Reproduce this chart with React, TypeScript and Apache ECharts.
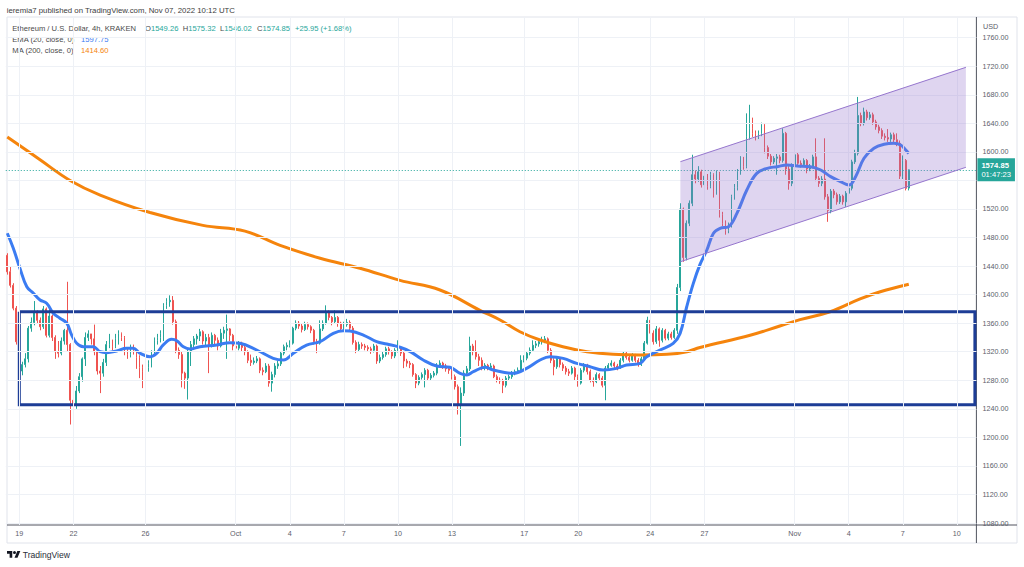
import React, { useEffect, useRef } from 'react';
import * as echarts from 'echarts';

// ---------- data ----------
const START_UTC = Date.UTC(2022, 8, 18, 8); // first 4h candle: Sep 18 08:00 UTC
const BAR_MS = 4 * 3600 * 1000;
const SLOT_COUNT = 323; // candle slots on the time axis (incl. right margin)

const FIRST_OPEN = 1455;
const LAST_OPEN = 1549.26;

const CLOSE = [
  1432, 1413, 1381, 1334, 1293, 1302, 1310, 1353, 1361, 1376,
  1364, 1355, 1380, 1343, 1370, 1340, 1320, 1318, 1335, 1350,
  1330, 1252, 1245, 1265, 1285, 1310, 1340, 1345, 1338, 1320,
  1293, 1290, 1305, 1330, 1335, 1327, 1338, 1345, 1340, 1320,
  1316, 1325, 1322, 1312, 1298, 1292, 1298, 1303, 1318, 1336,
  1340, 1345, 1385, 1390, 1392, 1362, 1322, 1316, 1290, 1283,
  1320, 1330, 1338, 1342, 1348, 1335, 1340, 1330, 1343, 1336,
  1328, 1346, 1350, 1352, 1343, 1328, 1325, 1332, 1326, 1320,
  1308, 1305, 1307, 1310, 1294, 1292, 1300, 1276, 1288, 1300,
  1303, 1318, 1327, 1329, 1332, 1353, 1360, 1356, 1351, 1358,
  1355, 1350, 1334, 1332, 1352, 1360, 1375, 1368, 1362, 1368,
  1360, 1352, 1358, 1361, 1353, 1333, 1323, 1330, 1328, 1326,
  1324, 1322, 1328, 1307, 1312, 1316, 1324, 1320, 1314, 1322,
  1326, 1318, 1307, 1304, 1302, 1288, 1276, 1284, 1288, 1294,
  1283, 1287, 1290, 1301, 1304, 1300, 1296, 1294, 1285, 1271,
  1245, 1262, 1290, 1296, 1328, 1320, 1313, 1308, 1298, 1301,
  1298, 1300, 1285, 1280, 1279, 1273, 1283, 1285, 1290, 1292,
  1294, 1308, 1311, 1318, 1322, 1329, 1331, 1334, 1336, 1338,
  1322, 1308, 1299, 1310, 1302, 1297, 1292, 1290, 1297, 1285,
  1276, 1294, 1301, 1292, 1280, 1278, 1288, 1283, 1273, 1297,
  1301, 1304, 1300, 1298, 1308, 1318, 1312, 1308, 1315, 1308,
  1302, 1310, 1332, 1364, 1346, 1334, 1352, 1336, 1350, 1339,
  1345, 1340, 1350, 1410, 1520, 1452, 1500, 1528, 1568, 1562,
  1572, 1554, 1566, 1552, 1568, 1544, 1570, 1512, 1500, 1490,
  1497, 1537, 1550, 1572, 1590, 1580, 1621, 1633, 1626, 1621,
  1626, 1638, 1606, 1594, 1586, 1591, 1593, 1588, 1626, 1576,
  1556, 1581, 1596, 1584, 1582, 1588, 1576, 1580, 1593, 1563,
  1556, 1562, 1537, 1518, 1545, 1540, 1530, 1538, 1530, 1542,
  1549, 1586, 1598, 1651, 1640, 1656, 1648, 1652, 1642, 1635,
  1630, 1622, 1620, 1618, 1624, 1617, 1612, 1566, 1588, 1548.9,
  1574.85,
];

const HIGH = [
  1458, 1440, 1416, 1384, 1338, 1306, 1318, 1356, 1368, 1391,
  1378, 1368, 1384, 1382, 1382, 1372, 1343, 1335, 1340, 1352,
  1418, 1332, 1264, 1272, 1290, 1312, 1347, 1350, 1345, 1358,
  1322, 1300, 1310, 1335, 1345, 1337, 1345, 1350, 1347, 1342,
  1326, 1330, 1330, 1324, 1315, 1302, 1310, 1308, 1322, 1340,
  1345, 1350, 1388, 1395, 1399, 1398, 1365, 1326, 1320, 1292,
  1324, 1335, 1342, 1345, 1352, 1350, 1345, 1345, 1347, 1345,
  1340, 1352, 1355, 1372, 1353, 1345, 1332, 1335, 1334, 1328,
  1322, 1316, 1312, 1314, 1312, 1298, 1304, 1303, 1292, 1304,
  1307, 1321, 1330, 1333, 1336, 1355, 1364, 1363, 1359, 1362,
  1361, 1357, 1352, 1338, 1364, 1364, 1385, 1378, 1370, 1378,
  1370, 1362, 1362, 1366, 1364, 1356, 1336, 1334, 1333, 1331,
  1329, 1327, 1331, 1330, 1316, 1320, 1327, 1327, 1322, 1325,
  1336, 1328, 1320, 1310, 1307, 1304, 1290, 1287, 1291, 1297,
  1296, 1290, 1293, 1304, 1308, 1306, 1303, 1299, 1297, 1288,
  1274, 1270, 1294, 1300, 1341, 1331, 1336, 1317, 1312, 1304,
  1303, 1304, 1302, 1288, 1284, 1282, 1286, 1288, 1293, 1295,
  1298, 1315, 1315, 1321, 1326, 1336, 1335, 1337, 1341, 1342,
  1340, 1325, 1311, 1313, 1312, 1305, 1300, 1296, 1300, 1299,
  1288, 1297, 1304, 1303, 1295, 1284, 1291, 1290, 1286, 1300,
  1304, 1308, 1306, 1303, 1311, 1320, 1320, 1315, 1318, 1317,
  1311, 1313, 1335, 1369, 1369, 1350, 1356, 1354, 1353, 1352,
  1348, 1348, 1353, 1415, 1528, 1522, 1504, 1532, 1596, 1574,
  1580, 1575, 1570, 1569, 1572, 1570, 1574, 1572, 1516, 1504,
  1501, 1540, 1555, 1576, 1594, 1593, 1654, 1666, 1648, 1630,
  1630, 1641, 1640, 1609, 1597, 1594, 1597, 1596, 1633, 1628,
  1580, 1584, 1603, 1599, 1588, 1591, 1590, 1583, 1596, 1619,
  1566, 1566, 1619, 1541, 1548, 1548, 1543, 1541, 1540, 1545,
  1552, 1589, 1603, 1677, 1655, 1662, 1659, 1656, 1655, 1645,
  1638, 1633, 1626, 1632, 1627, 1627, 1626, 1616, 1595, 1590,
  1575.32,
];

const LOW = [
  1428, 1410, 1378, 1330, 1282, 1287, 1298, 1305, 1348, 1357,
  1360, 1350, 1352, 1340, 1340, 1335, 1310, 1312, 1315, 1330,
  1320, 1218, 1238, 1240, 1262, 1278, 1300, 1335, 1330, 1315,
  1288, 1262, 1285, 1300, 1325, 1322, 1325, 1330, 1335, 1315,
  1310, 1312, 1316, 1296, 1283, 1269, 1278, 1292, 1298, 1315,
  1330, 1333, 1335, 1380, 1383, 1358, 1318, 1310, 1270, 1268,
  1253, 1300, 1325, 1330, 1335, 1330, 1328, 1290, 1326, 1330,
  1322, 1326, 1338, 1310, 1335, 1322, 1320, 1322, 1320, 1315,
  1304, 1300, 1302, 1304, 1290, 1287, 1290, 1271, 1264, 1284,
  1296, 1300, 1315, 1322, 1326, 1330, 1350, 1352, 1347, 1349,
  1351, 1346, 1330, 1318, 1330, 1349, 1358, 1364, 1357, 1359,
  1355, 1348, 1349, 1355, 1349, 1330, 1318, 1320, 1324, 1322,
  1320, 1317, 1319, 1303, 1304, 1309, 1313, 1316, 1310, 1311,
  1319, 1314, 1297, 1299, 1297, 1285, 1269, 1273, 1281, 1270,
  1279, 1280, 1284, 1287, 1298, 1296, 1292, 1289, 1281, 1267,
  1232, 1188, 1258, 1286, 1293, 1315, 1309, 1300, 1294, 1294,
  1294, 1295, 1283, 1277, 1275, 1262, 1270, 1280, 1282, 1287,
  1289, 1292, 1305, 1308, 1315, 1320, 1325, 1327, 1330, 1332,
  1318, 1304, 1287, 1296, 1298, 1293, 1288, 1286, 1288, 1280,
  1271, 1274, 1291, 1288, 1277, 1271, 1276, 1279, 1270, 1252,
  1294, 1299, 1296, 1294, 1296, 1305, 1309, 1305, 1306, 1305,
  1299, 1300, 1307, 1330, 1342, 1330, 1331, 1327, 1333, 1336,
  1336, 1337, 1338, 1345, 1405, 1446, 1448, 1496, 1524, 1556,
  1558, 1550, 1550, 1547, 1549, 1536, 1540, 1508, 1496, 1484,
  1486, 1494, 1533, 1546, 1568, 1575, 1577, 1617, 1621, 1616,
  1618, 1622, 1598, 1590, 1581, 1583, 1568, 1584, 1585, 1568,
  1547, 1552, 1578, 1580, 1578, 1579, 1570, 1573, 1577, 1559,
  1551, 1552, 1533, 1502, 1514, 1535, 1526, 1527, 1526, 1523,
  1538, 1546, 1583, 1595, 1636, 1637, 1644, 1645, 1638, 1631,
  1626, 1618, 1616, 1614, 1614, 1613, 1608, 1562, 1562, 1546,
  1546.02,
];

// EMA(20): [candle index, price]
const EMA_POINTS = [
  [0, 1486], [2, 1465], [4.2, 1437], [6.5, 1411], [8.7, 1402], [10.9, 1392.5], [13.1, 1388],
  [15.3, 1374], [17.5, 1367], [19.8, 1360], [21.4, 1343.5], [23.1, 1331.8], [25.3, 1327],
  [28.6, 1327], [30.9, 1320], [33.1, 1318.7], [36.4, 1321], [39.7, 1324.8], [41.9, 1324.8],
  [44.2, 1317.8], [47.5, 1313], [49.7, 1317.8], [51.9, 1329.5], [54.7, 1337.4], [56.4, 1335.5],
  [58.6, 1327], [60.8, 1323.9], [64.1, 1327], [69.7, 1329.5], [74.1, 1332.7], [77.4, 1331.8],
  [83, 1322.4], [88.5, 1310.8], [91.9, 1308.4], [95.2, 1317.8], [99.6, 1329.4], [104.1, 1334],
  [108.5, 1345.8], [111.8, 1349.5], [114.1, 1349], [118.5, 1343.4], [122.9, 1334.1],
  [126.3, 1330.8], [130.7, 1326.2], [134.1, 1320.1], [138.4, 1308.4], [142.9, 1300],
  [147.3, 1298.2], [150.7, 1289.7], [152.9, 1287.4], [155.1, 1292], [159, 1298.2],
  [161.7, 1294.4], [168.4, 1289.7], [172.8, 1296.7], [177.3, 1308.4], [180.6, 1313],
  [185, 1310.7], [189.5, 1303.7], [193.9, 1299], [198.3, 1294.4], [202.8, 1296.7],
  [206.1, 1301.4], [210.6, 1303.7], [212.8, 1313], [217.2, 1322.4], [221.6, 1331.7],
  [223.9, 1345.7], [226.1, 1383], [228.3, 1415.8], [230.5, 1442], [232.8, 1462.5],
  [235, 1485.9], [237.2, 1492.9], [240, 1495.2], [242.8, 1513.9], [246.1, 1546.6],
  [249.4, 1569.9], [252.9, 1577], [256.2, 1579.3], [259.5, 1581.6], [262.9, 1580.2],
  [267.3, 1579.3], [270.7, 1574.6], [274, 1565.3], [277.3, 1558.3], [280.1, 1553.6],
  [282.3, 1565.3], [285.1, 1591], [288.4, 1605], [291.8, 1610.6], [295.1, 1612],
  [297.3, 1609.6], [299, 1602.6], [300, 1597.75],
];

// MA(200): [candle index, price]
const MA_POINTS = [
  [0, 1621], [10.9, 1589], [20.9, 1560], [30.9, 1539.5], [47.5, 1515], [65.1, 1497],
  [79.1, 1489], [90.8, 1469], [104.1, 1451], [117.4, 1437], [130.7, 1420], [144, 1406.5],
  [157.3, 1378], [164, 1364.4], [170.6, 1348], [177.3, 1336.4], [184.9, 1327], [192.9, 1320],
  [201.6, 1316.3], [210.6, 1315.4], [219.5, 1316.3], [226.2, 1320], [230.5, 1326],
  [247.2, 1343], [257.1, 1356], [263.8, 1365], [273.8, 1376], [283.8, 1394], [290.5, 1404],
  [300, 1414.6],
];

// drawings
const RANGE_I = [4, 322];
const RANGE_PRICE = [1376, 1245.6];
const CHANNEL_I = [224, 319];
const CHANNEL_UPPER = [1586.3, 1718.5];
const CHANNEL_LOWER = [1446.1, 1578.4];

const PRICE_TICKS = [
  1080, 1120, 1160, 1200, 1240, 1280, 1320, 1360, 1400, 1440, 1480, 1520, 1560, 1600, 1640,
  1680, 1720, 1760,
];
// tick whose label is hidden behind the last-price tag
const HIDDEN_PRICE_LABELS = [1560];
const X_TICK_DATES = [
  '2022-09-19', '2022-09-22', '2022-09-26', '2022-10-01', '2022-10-04', '2022-10-07',
  '2022-10-10', '2022-10-13', '2022-10-17', '2022-10-20', '2022-10-24', '2022-10-27',
  '2022-11-01', '2022-11-04', '2022-11-07', '2022-11-10',
];
const X_TICK_LABELS = ['19', '22', '26', 'Oct', '4', '7', '10', '13', '17', '20', '24', '27', 'Nov', '4', '7', '10'];

const Y_MIN = 1077.2;
const Y_MAX = 1789.0;
const COUNTDOWN = '01:47:23';

const UP = '#26a69a';
const DOWN = '#ef5350';
const FONT = "'Liberation Sans', Arial, sans-serif";

const TV_LOGO_PATH =
  'M14 22H7V11H0V4h14v18z M28 22h-8l7.5-18h8L28 22z M24 8a4 4 0 1 1 -8 0a4 4 0 1 1 8 0z';

function buildOption() {
  const n = CLOSE.length;
  const categories: string[] = [];
  for (let i = 0; i < SLOT_COUNT; i++) {
    categories.push(new Date(START_UTC + i * BAR_MS).toISOString());
  }
  const tickIndex: Record<number, string> = {};
  X_TICK_DATES.forEach((d, j) => {
    const i = Math.round((Date.parse(d + 'T00:00:00Z') - START_UTC) / BAR_MS);
    tickIndex[i] = X_TICK_LABELS[j];
  });

  const candles = CLOSE.map((c, i) => {
    let o = i === 0 ? FIRST_OPEN : CLOSE[i - 1];
    if (i === n - 1) o = LAST_OPEN;
    return [o, c, LOW[i], HIGH[i]];
  });

  const lastO = LAST_OPEN;
  const lastH = HIGH[n - 1];
  const lastL = LOW[n - 1];
  const lastC = CLOSE[n - 1];
  const prevC = CLOSE[n - 2];
  const chg = lastC - prevC;
  const pct = (chg / prevC) * 100;
  const emaLast = EMA_POINTS[EMA_POINTS.length - 1][1];
  const maLast = MA_POINTS[MA_POINTS.length - 1][1];

  const rectPts = [
    [RANGE_I[0], RANGE_PRICE[0]],
    [RANGE_I[1], RANGE_PRICE[0]],
    [RANGE_I[1], RANGE_PRICE[1]],
    [RANGE_I[0], RANGE_PRICE[1]],
    [RANGE_I[0], RANGE_PRICE[0]],
  ];

  const gridMarks: any[] = [];
  PRICE_TICKS.forEach((v) =>
    gridMarks.push(
      HIDDEN_PRICE_LABELS.includes(v) ? { yAxis: v, label: { show: false } } : { yAxis: v }
    )
  );
  Object.keys(tickIndex).forEach((k) =>
    gridMarks.push({ xAxis: Number(k), label: { show: false } })
  );

  const legendText = (x: number, label: string, value: string, color: string) => ({
    type: 'text',
    x,
    y: 28.3,
    style: {
      text: `{g|${label}}{t|${value}}`,
      verticalAlign: 'middle',
      rich: {
        g: { fill: '#4a4a4a', fontSize: 7.6, fontFamily: FONT },
        t: { fill: color, fontSize: 7.6, fontFamily: FONT },
      },
    },
  });

  return {
    animation: false,
    backgroundColor: '#ffffff',
    textStyle: { fontFamily: FONT },
    grid: { left: 5.78, right: 47.6, top: 17, bottom: 42 },
    xAxis: [
      {
        type: 'category',
        data: categories,
        boundaryGap: true,
        axisLine: { show: false },
        axisTick: { show: false },
        splitLine: { show: false },
        axisLabel: {
          interval: (index: number) => tickIndex[index] !== undefined,
          formatter: (_v: string, index: number) => tickIndex[index] || '',
          color: '#5d606b',
          fontSize: 7.2,
          margin: 5,
        },
      },
      {
        type: 'value',
        min: -0.5,
        max: SLOT_COUNT - 0.5,
        show: false,
      },
    ],
    yAxis: {
      type: 'value',
      position: 'right',
      min: Y_MIN,
      max: Y_MAX,
      axisLine: { show: false },
      axisTick: { show: false },
      axisLabel: { show: false },
      splitLine: { show: false },
    },
    series: [
      {
        name: 'grid',
        type: 'line',
        xAxisIndex: 1,
        data: [[0, 1300]],
        showSymbol: false,
        lineStyle: { opacity: 0 },
        silent: true,
        z: 1,
        markLine: {
          silent: true,
          symbol: ['none', 'none'],
          animation: false,
          lineStyle: { color: '#eef1f6', width: 1, type: 'solid' },
          label: {
            show: true,
            position: 'end',
            distance: 6,
            color: '#5d606b',
            fontSize: 7.2,
            formatter: (p: any) => Number(p.value).toFixed(2),
          },
          emphasis: { disabled: true },
          data: gridMarks,
        },
      },
      {
        name: 'lastPrice',
        type: 'line',
        xAxisIndex: 1,
        data: [[0, 1300]],
        showSymbol: false,
        lineStyle: { opacity: 0 },
        silent: true,
        z: 2,
        markLine: {
          silent: true,
          symbol: ['none', 'none'],
          animation: false,
          lineStyle: { color: UP, width: 1, type: [1, 2] },
          label: {
            show: true,
            position: 'end',
            distance: 1,
            backgroundColor: UP,
            padding: [2, 4, 2, 4],
            formatter: () => `{p|${lastC.toFixed(2)}}\n{t|${COUNTDOWN}}`,
            rich: {
              p: { color: '#fff', fontWeight: 'bold', fontSize: 7.6, lineHeight: 9.5, fontFamily: FONT },
              t: { color: '#fff', fontSize: 7.6, lineHeight: 9.5, fontFamily: FONT },
            },
          },
          emphasis: { disabled: true },
          data: [{ yAxis: lastC }],
        },
      },
      {
        name: 'ETHUSD',
        type: 'candlestick',
        xAxisIndex: 0,
        data: candles,
        barWidth: 1.4,
        z: 2,
        itemStyle: {
          color: UP,
          color0: DOWN,
          borderColor: UP,
          borderColor0: DOWN,
          borderWidth: 1,
        },
      },
      {
        name: 'MA200',
        type: 'line',
        xAxisIndex: 1,
        data: MA_POINTS,
        showSymbol: false,
        smooth: 0.4,
        z: 3,
        lineStyle: { color: '#f5840c', width: 3 },
      },
      {
        name: 'EMA20',
        type: 'line',
        xAxisIndex: 1,
        data: EMA_POINTS,
        showSymbol: false,
        smooth: 0.4,
        z: 3,
        lineStyle: { color: '#3b7cf2', width: 3 },
      },
      {
        name: 'range',
        type: 'line',
        xAxisIndex: 1,
        data: rectPts,
        showSymbol: false,
        z: 4,
        lineStyle: { color: '#1d3d96', width: 3, join: 'miter' },
      },
      {
        name: 'channel',
        type: 'custom',
        xAxisIndex: 1,
        z: 5,
        data: [[CHANNEL_I[0], CHANNEL_UPPER[0]]],
        encode: { x: 0, y: 1 },
        renderItem: (_params: any, api: any) => {
          const a = api.coord([CHANNEL_I[0], CHANNEL_UPPER[0]]);
          const b = api.coord([CHANNEL_I[1], CHANNEL_UPPER[1]]);
          const c = api.coord([CHANNEL_I[1], CHANNEL_LOWER[1]]);
          const d = api.coord([CHANNEL_I[0], CHANNEL_LOWER[0]]);
          return {
            type: 'group',
            children: [
              { type: 'polygon', shape: { points: [a, b, c, d] }, style: { fill: 'rgba(149,117,205,0.3)' } },
              { type: 'line', shape: { x1: a[0], y1: a[1], x2: b[0], y2: b[1] }, style: { stroke: '#9575cd', lineWidth: 1 } },
              { type: 'line', shape: { x1: d[0], y1: d[1], x2: c[0], y2: c[1] }, style: { stroke: '#9575cd', lineWidth: 1 } },
            ],
          };
        },
      },
    ],
    graphic: [
      { type: 'rect', shape: { x: 7, y: 17, width: 1010, height: 526 }, style: { fill: 'none', stroke: '#e0e3eb', lineWidth: 1 }, silent: true },
      { type: 'line', shape: { x1: 7, y1: 525, x2: 1017, y2: 525 }, style: { stroke: '#50535e', lineWidth: 1 }, silent: true },
      { type: 'line', shape: { x1: 976.4, y1: 17, x2: 976.4, y2: 543 }, style: { stroke: '#50535e', lineWidth: 1 }, silent: true },
      {
        type: 'text', x: 6.7, y: 10,
        style: { text: 'ieremia7 published on TradingView.com, Nov 07, 2022 10:12 UTC', fill: '#3c3c3c', fontSize: 7.8, fontFamily: FONT, verticalAlign: 'middle' },
      },
      {
        type: 'text', x: 12.3, y: 28.3,
        style: { text: 'Ethereum / U.S. Dollar, 4h, KRAKEN', fill: '#4a4a4a', fontSize: 7.6, fontFamily: FONT, verticalAlign: 'middle' },
      },
      legendText(145, 'O', lastO.toFixed(2), UP),
      legendText(182.7, 'H', lastH.toFixed(2), UP),
      legendText(220, 'L', lastL.toFixed(2), UP),
      legendText(257, 'C', lastC.toFixed(2), UP),
      {
        type: 'text', x: 295, y: 28.3,
        style: { text: `${chg >= 0 ? '+' : ''}${chg.toFixed(2)} (${pct >= 0 ? '+' : ''}${pct.toFixed(2)}%)`, fill: UP, fontSize: 7.6, fontFamily: FONT, verticalAlign: 'middle' },
      },
      {
        type: 'text', x: 12.3, y: 39.5,
        style: { text: 'EMA (20, close, 0)', fill: '#4a4a4a', fontSize: 7.6, fontFamily: FONT, verticalAlign: 'middle' },
      },
      {
        type: 'text', x: 81, y: 39.5,
        style: { text: emaLast.toFixed(2), fill: '#3b7cf2', fontSize: 7.6, fontFamily: FONT, verticalAlign: 'middle' },
      },
      {
        type: 'text', x: 12.3, y: 50.7,
        style: { text: 'MA (200, close, 0)', fill: '#4a4a4a', fontSize: 7.6, fontFamily: FONT, verticalAlign: 'middle' },
      },
      {
        type: 'text', x: 81, y: 50.7,
        style: { text: maLast.toFixed(2), fill: '#f5840c', fontSize: 7.6, fontFamily: FONT, verticalAlign: 'middle' },
      },
      {
        type: 'text', x: 983, y: 26,
        style: { text: 'USD', fill: '#5d606b', fontSize: 7.2, fontFamily: FONT, verticalAlign: 'middle' },
      },
      {
        type: 'tvlogo', x: 7, y: 549.5, scaleX: 0.375, scaleY: 0.375,
        style: { fill: '#131722' },
      },
      {
        type: 'text', x: 22.7, y: 555,
        style: { text: 'TradingView', fill: '#2a2e39', fontSize: 8.6, fontFamily: FONT, verticalAlign: 'middle' },
      },
    ],
  };
}

let logoRegistered = false;

export default function App() {
  const ref = useRef<HTMLDivElement>(null);
  useEffect(() => {
    if (!ref.current) return;
    if (!logoRegistered) {
      echarts.graphic.registerShape('tvlogo', echarts.graphic.extendPath(TV_LOGO_PATH, {}) as any);
      logoRegistered = true;
    }
    const chart = echarts.init(ref.current, null, { renderer: 'svg' });
    chart.setOption(buildOption() as any);
    return () => chart.dispose();
  }, []);
  return (
    <div
      ref={ref}
      style={{ position: 'fixed', left: 0, top: 0, width: 1024, height: 567, background: '#ffffff' }}
    />
  );
}
